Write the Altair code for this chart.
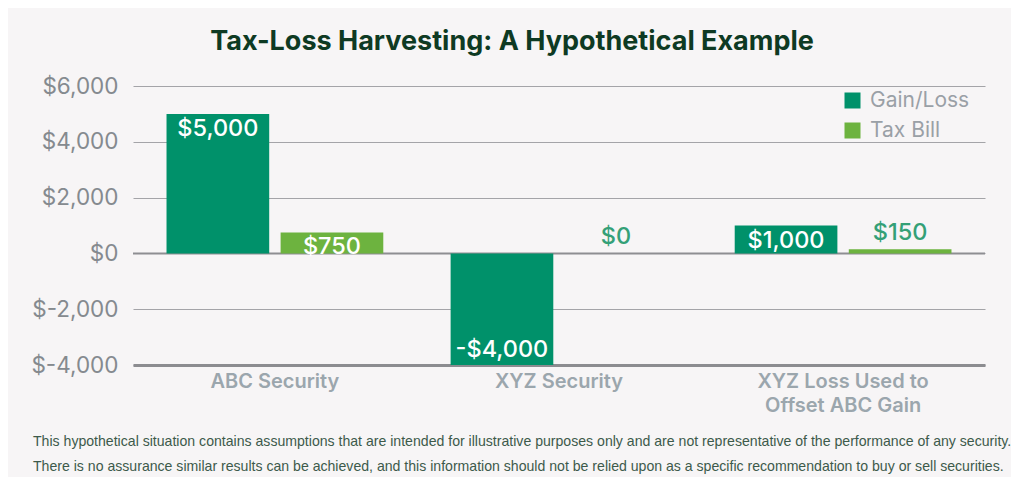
import altair as alt
import pandas as pd

# ---- data ----
categories = ["ABC Security", "XYZ Security", "XYZ Loss Used to\nOffset ABC Gain"]
series = ["Gain/Loss", "Tax Bill"]
gain_loss = [5000, -4000, 1000]
tax_bill = [750, 0, 150]
y_ticks = [-4000, -2000, 0, 2000, 4000, 6000]
colors = ["#00916a", "#6db33f"]
title_text = "Tax-Loss Harvesting: A Hypothetical Example"
footnote_lines = [
    "This hypothetical situation contains assumptions that are intended for illustrative purposes only and are not representative of the performance of any security.",
    "There is no assurance similar results can be achieved, and this information should not be relied upon as a specific recommendation to buy or sell securities.",
]

rows = []
for c, g, t in zip(categories, gain_loss, tax_bill):
    rows.append({"category": c, "series": series[0], "value": g})
    rows.append({"category": c, "series": series[1], "value": t})
df = pd.DataFrame(rows)

FONT = "Inter"
W, H = 852, 279

x_enc = alt.X(
    "category:N",
    sort=categories,
    scale=alt.Scale(paddingInner=0.237, paddingOuter=0.118),
    axis=alt.Axis(
        title=None,
        labelAngle=0,
        labelExpr="split(datum.label, '\\n')",
        domain=True,
        domainColor="#8c8c90",
        domainWidth=3,
        ticks=False,
        grid=False,
        labelPadding=6,
        labelFont=FONT,
        labelFontSize=20,
        labelFontWeight=600,
        labelColor="#9ba6ad",
        labelLineHeight=24,
    ),
)
xoff_enc = alt.XOffset("series:N", sort=series, scale=alt.Scale(paddingInner=0.1, paddingOuter=0))
y_enc = alt.Y(
    "value:Q",
    scale=alt.Scale(domain=[-4000, 6000], nice=False),
    axis=alt.Axis(
        title=None,
        values=y_ticks,
        labelExpr="datum.value < 0 ? '$-' + format(-datum.value, ',') : '$' + format(datum.value, ',')",
        domain=False,
        ticks=False,
        grid=True,
        gridColor="#a4a4a8",
        gridWidth=1.2,
        labelPadding=15,
        labelFont=FONT,
        labelFontSize=22.5,
        labelColor="#858a8f",
    ),
)

base = alt.Chart(df).encode(x=x_enc, xOffset=xoff_enc, y=y_enc)

zero_rule = alt.Chart(pd.DataFrame({"value": [0]})).mark_rule(
    color="#8e8e92", strokeWidth=2
).encode(y=alt.Y("value:Q", title=None))

bars = base.mark_bar().encode(
    color=alt.Color(
        "series:N",
        sort=series,
        scale=alt.Scale(domain=series, range=colors),
        legend=alt.Legend(
            title=None,
            orient="none",
            legendX=709,
            legendY=4,
            padding=0,
            symbolType="square",
            symbolSize=256,
            symbolStrokeWidth=0,
            labelFont=FONT,
            labelFontSize=21,
            labelColor="#9aa0a6",
            labelOffset=7,
            rowPadding=8,
        ),
    )
)

label_calc = "datum.value < 0 ? '-$' + format(-datum.value, ',') : '$' + format(datum.value, ',')"
txt_common = dict(font=FONT, fontSize=23.5, fontWeight=500)

inside_top = base.transform_filter("datum.value >= 500").transform_calculate(
    label=label_calc
).mark_text(baseline="top", dy=3, color="white", **txt_common).encode(text="label:N")

inside_bottom = base.transform_filter("datum.value < 0").transform_calculate(
    label=label_calc
).mark_text(baseline="bottom", dy=-3, color="white", **txt_common).encode(text="label:N")

outside = base.transform_filter("datum.value >= 0 && datum.value < 500").transform_calculate(
    label=label_calc
).mark_text(baseline="bottom", dy=-4, color="#34a077", **txt_common).encode(text="label:N")

title_layer = (
    alt.Chart(pd.DataFrame({"t": [title_text]}))
    .mark_text(
        align="center",
        baseline="alphabetic",
        font=FONT,
        fontSize=27,
        fontWeight="bold",
        color="#0e3a23",
    )
    .encode(x=alt.value(379), y=alt.value(-36), text="t:N")
)

foot_layers = []
for i, line in enumerate(footnote_lines):
    foot_layers.append(
        alt.Chart(pd.DataFrame({"t": [line]}))
        .mark_text(
            align="left",
            baseline="middle",
            font="Liberation Sans",
            fontSize=14.1,
            color="#3d5a4b",
        )
        .encode(x=alt.value(-100), y=alt.value(356 + 25 * i), text="t:N")
    )

chart = (
    alt.layer(zero_rule, bars, inside_top, inside_bottom, outside, title_layer, *foot_layers)
    .properties(
        width=W,
        height=H,
        autosize=alt.AutoSizeParams(type="none"),
        padding={"left": 125, "top": 78, "right": 26, "bottom": 112},
    )
    .configure(background="#f7f5f6")
    .configure_view(stroke=None)
)

chart.save("out.html", embed_options={"renderer": "svg", "actions": False})
